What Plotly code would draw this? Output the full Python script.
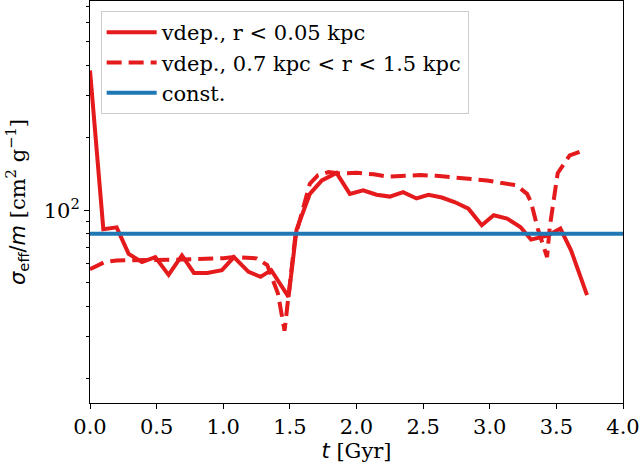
import plotly.graph_objects as go

# Solid: vdep., r < 0.05 kpc
t_inner = [0.0, 0.10, 0.20, 0.29, 0.39, 0.49, 0.59, 0.69, 0.78, 0.88, 0.99, 1.08, 1.19, 1.28,
           1.36, 1.49, 1.55, 1.65, 1.74, 1.85, 1.95, 2.05, 2.15, 2.25, 2.35, 2.45, 2.54, 2.64,
           2.74, 2.84, 2.94, 3.03, 3.13, 3.23, 3.31, 3.44, 3.53, 3.61, 3.73]
s_inner = [380, 83.5, 85, 66, 61, 64, 54, 65, 55, 55, 56.5, 64, 55.6, 53,
           56.5, 43.8, 83, 117, 133, 143, 117, 121, 116, 114, 119, 112, 116, 113,
           108, 101.6, 86.7, 95.4, 92.4, 85.3, 75.6, 78.8, 84, 68.3, 44.5]

# Dashed: vdep., 0.7 kpc < r < 1.5 kpc
t_outer = [0.0, 0.11, 0.2, 0.3, 0.4, 0.5, 0.6, 0.7, 0.8, 0.9, 1.0, 1.08, 1.18, 1.25, 1.33,
           1.41, 1.46, 1.54, 1.65, 1.71, 1.79, 1.89, 2.0, 2.06, 2.13, 2.23, 2.35, 2.48, 2.6,
           2.73, 2.85, 2.98, 3.08, 3.2, 3.28, 3.31, 3.36, 3.43, 3.45, 3.51, 3.6, 3.7]
s_outer = [57, 61, 62, 62, 62, 62, 62.3, 62.5, 62.8, 63, 63.3, 64, 63.8, 63.2, 59.3,
           45.3, 31.7, 77.6, 129, 139.6, 144, 142, 143, 142.6, 141, 138, 139, 140, 139,
           137, 135, 133, 130, 127, 117, 108, 84, 64, 85, 142.6, 169, 177]

# Constant cross-section
t_const = [0.0, 4.0]
s_const = [80, 80]

RED = "#e41a1c"
BLUE = "#1f77b4"
SERIF = "DejaVu Serif"
FS = 21

fig = go.Figure()
fig.add_trace(go.Scatter(x=t_inner, y=s_inner, mode="lines",
                         line=dict(color=RED, width=4),
                         name="vdep., r < 0.05 kpc"))
fig.add_trace(go.Scatter(x=t_outer, y=s_outer, mode="lines",
                         line=dict(color=RED, width=4, dash="15px,7px"),
                         name="vdep., 0.7 kpc < r < 1.5 kpc"))
fig.add_trace(go.Scatter(x=t_const, y=s_const, mode="lines",
                         line=dict(color=BLUE, width=4),
                         name="const."))

minor_vals = [20, 30, 40, 50, 60, 70, 80, 90, 200, 300, 400, 500, 600, 700]

fig.update_layout(
    width=641, height=472,
    margin=dict(l=90, r=18, t=1, b=69),
    paper_bgcolor="white", plot_bgcolor="white",
    font=dict(family=SERIF, size=FS, color="black"),
    showlegend=True,
    legend=dict(x=0.02, y=0.975, xanchor="left", yanchor="top",
                bgcolor="rgba(255,255,255,0.8)", bordercolor="#cccccc", borderwidth=1,
                font=dict(family=SERIF, size=FS, color="black"),
                itemwidth=50, tracegroupgap=0),
    xaxis=dict(range=[0, 4], tickvals=[0, 0.5, 1, 1.5, 2, 2.5, 3, 3.5, 4],
               ticktext=["0.0", "0.5", "1.0", "1.5", "2.0", "2.5", "3.0", "3.5", "4.0"],
               ticks="outside", ticklen=5, tickwidth=1, tickcolor="black",
               showline=True, linecolor="black", linewidth=1, mirror=True,
               showgrid=False, zeroline=False,
               tickfont=dict(family=SERIF, size=FS),
               title=dict(text="<span style='font-family:DejaVu Sans'><i>t</i></span> [Gyr]",
                          font=dict(family=SERIF, size=FS), standoff=4)),
    yaxis=dict(type="log", range=[1.2012, 2.8678],
               tickvals=[100], ticktext=["10<sup>2</sup>"],
               ticks="outside", ticklen=5, tickwidth=1, tickcolor="black",
               minor=dict(tickvals=minor_vals, ticks="outside", ticklen=3,
                          tickwidth=1, tickcolor="black", showgrid=False),
               showline=True, linecolor="black", linewidth=1, mirror=True,
               showgrid=False, zeroline=False,
               tickfont=dict(family=SERIF, size=FS),
               title=dict(text="<span style='font-family:DejaVu Sans'><i>σ</i><sub>eff</sub>/<i>m</i></span> [cm<sup>2</sup> g<sup>−1</sup>]",
                          font=dict(family=SERIF, size=FS), standoff=12)),
)

fig.write_html("out.html")
